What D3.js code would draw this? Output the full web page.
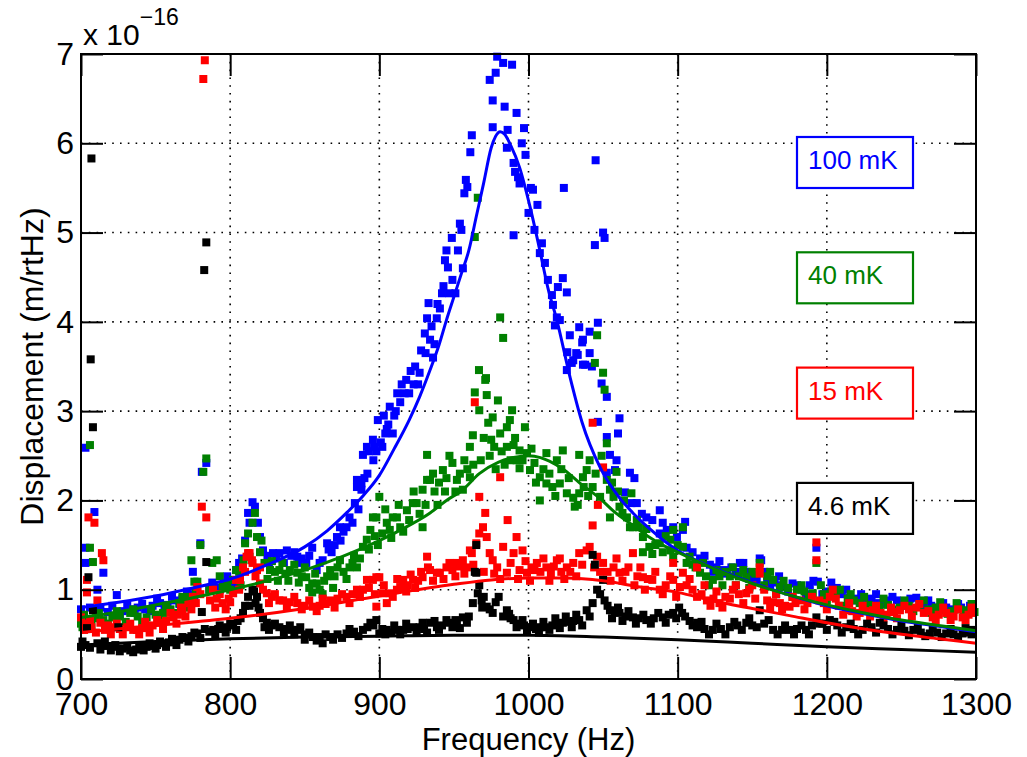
<!DOCTYPE html>
<html><head><meta charset="utf-8">
<script src="https://cdn.jsdelivr.net/npm/d3@7"></script>
<style>html,body{margin:0;padding:0;background:#fff;} svg{display:block;font-family:"Liberation Sans",Arial,Helvetica,sans-serif;}</style>
</head><body><svg id="chart" width="1027" height="757"></svg>
<script>
// ---------- DATA ----------
const xTicks = [700,800,900,1000,1100,1200,1300];
const yTicks = [0,1,2,3,4,5,6,7];
const legendLabels = ["100 mK","40 mK","15 mK","4.6 mK"];
const seriesColors = ["#0000ff","#008000","#ff0000","#000000"];

// measured points [frequency Hz, displacement x1e-16]
const pts100mK = [[700,0.78],[703,2.59],[703,1.47],[703,1.30],[706,0.80],[709,1.87],[711,1.0],[715,1.19],[718,0.75],[724,0.94],[728,0.76],[733,0.78],[738,0.8],[743,0.78],[748,0.82],[753,0.85],[758,0.83],[763,0.88],[768,0.9],[773,0.95],[775,1.2],[778,0.98],[780,1.52],[781,2.32],[784,2.42],[786,1.0],[790,1.02],[795,1.05],[800,1.11],[804,1.22],[808,1.35],[812,1.86],[813,1.75],[815,1.98],[816.6,1.93],[818.6,1.75],[820,1.59],[822,1.44],[825,1.38],[828.7,1.41],[833,1.41],[838,1.44],[841,1.38],[845,1.37],[848,1.35],[851,1.3],[855,1.47],[858,1.22],[862,1.33],[865,1.52],[868,1.42],[871.6,1.59],[873.6,1.7],[876,1.65],[878,1.7],[880,1.81],[883.6,1.97],[885,2.15],[885,2.23],[888,2.19],[888,2.12],[889,2.51],[890,2.25],[891.7,2.6],[893,2.55],[895.7,2.68],[897,2.6],[899,2.9],[901,2.65],[903,2.95],[905,2.8],[907,3.05],[910,2.95],[912,3.2],[915,3.3],[918,3.35],[920,3.2],[923,3.3],[927,3.43],[928,3.68],[930.5,3.87],[932,4.04],[933,4.21],[934,3.8],[936,3.6],[938.5,4.04],[940.6,4.15],[942,4.32],[944,4.69],[945,4.8],[946,4.61],[947,4.32],[948.6,4.94],[949,4.47],[951,4.32],[952.7,4.8],[954,5.1],[955,5.03],[956,4.6],[957,5.44],[958,5.59],[959,5.51],[961,5.9],[962,6.09],[974,6.71],[976,6.18],[976,6.48],[978,6.79],[979,6.97],[983,6.9],[984,6.41],[985.5,5.95],[986,6.15],[989,6.88],[990,5.78],[990,4.97],[991,5.68],[992,6.34],[993,5.62],[994,5.55],[995.5,6.0],[997,6.17],[998,5.87],[1000,5.22],[1001.6,5.5],[1003,5.48],[1004,5.03],[1006,5.31],[1007.6,4.77],[1009,4.88],[1011,4.66],[1013,4.47],[1015.7,4.3],[1016.4,4.19],[1017.7,3.96],[1019,4.05],[1019.7,4.39],[1021,4.02],[1023,4.49],[1023.7,5.5],[1025.7,4.33],[1025.7,3.46],[1026,3.66],[1027.7,3.85],[1029,3.54],[1030,3.57],[1032,3.65],[1033,3.63],[1034,3.94],[1036,3.77],[1036.5,3.52],[1036.5,3.8],[1038,3.52],[1041,3.89],[1041,3.65],[1042.5,3.5],[1044.5,4.86],[1045,5.81],[1046.5,3.99],[1046.5,2.88],[1049,3.31],[1050,5.0],[1051,4.94],[1052.5,3.16],[1052.5,2.71],[1052.5,2.31],[1054.6,2.51],[1058,2.34],[1059,2.45],[1060,2.75],[1061,2.92],[1064.6,2.09],[1068,2.31],[1069,1.97],[1071,2.25],[1072.6,1.97],[1076,1.85],[1079,1.81],[1083,1.78],[1088,1.89],[1088,1.63],[1090,1.75],[1092.7,1.67],[1097,1.7],[1099.5,1.59],[1103.5,1.67],[1105,1.76],[1106,1.47],[1110,1.42],[1115,1.35],[1121.6,1.28],[1126,1.25],[1131,1.22],[1136,1.25],[1141.7,1.3],[1146,1.2],[1150,1.15],[1153,1.11],[1155,1.35],[1156,1.33],[1160,1.1],[1165,1.08],[1170,1.05],[1177,1.07],[1183,1.0],[1188.6,1.05],[1193,1.47],[1194,1.09],[1200,0.98],[1206.7,1.02],[1210,0.95],[1215,0.91],[1220,0.9],[1225,0.88],[1230,0.9],[1235,0.85],[1240,0.88],[1247,0.88],[1253,0.85],[1260,0.91],[1265,0.83],[1270,0.82],[1275,0.8],[1280,0.8],[1285,0.78],[1290,0.8],[1298,0.77],
 [713,0.8],[721,0.82],[726,0.72],[731,0.82],[736,0.74],[741,0.84],[746,0.76],[751,0.9],[756,0.8],[761,0.92],[766,0.84],[771,0.98],[776,0.9],[788,1.08],[793,1.0],[798,1.15],[802,1.05],[806,1.3],[810,1.55],[826,1.3],[831,1.35],[836,1.3],[843,1.42],[846,1.3],[853,1.38],[860,1.3],[866,1.45],[870,1.5],[874,1.55],[882,1.75],[886,1.9],[892,2.3],[896,2.45],[898,2.55],[902,2.6],[904,2.75],[906,2.85],[909,2.75],[911,3.0],[914,3.1],[917,3.2],[921,3.45],[924,3.5],[926,3.3],[931,3.65],[935,3.95],[937,3.75],[939,4.2],[943,4.4],[1112,1.3],[1118,1.38],[1124,1.2],[1128,1.32],[1133,1.18],[1139,1.2],[1144,1.3],[1148,1.12],[1158,1.2],[1162,1.05],[1168,1.15],[1174,0.98],[1180,1.05],[1186,0.95],[1191,1.1],[1197,0.95],[1203,1.08],[1213,1.0],[1218,0.88],[1223,0.95],[1228,0.85],[1233,0.95],[1238,0.84],[1244,0.92],[1250,0.82],[1256,0.9],[1263,0.82],[1268,0.88],[1273,0.78],[1278,0.85],[1283,0.77],[1288,0.84],[1293,0.75],[1296,0.82]];

const pts40mK = [[700,0.62],[701,0.58],[704,0.65],[706,2.62],[706,1.47],[708,1.31],[710,0.68],[715,0.66],[721,0.69],[726,0.7],[733,0.74],[738,0.7],[744,0.69],[750,0.72],[755,0.74],[760,0.78],[766,0.85],[770,0.88],[773,0.92],[774,1.33],[776,1.09],[778,1.09],[780,1.5],[782,2.32],[784,2.47],[786,1.0],[788,1.3],[791,1.33],[795,1.03],[798,1.05],[802,1.11],[806,1.2],[809,1.33],[810,1.52],[812,1.63],[813,1.37],[815,1.75],[816.6,1.86],[818,1.59],[820,1.42],[823,1.3],[826.7,1.22],[830,1.2],[833,1.22],[837,1.18],[840,1.22],[845,1.19],[848,1.15],[851,1.14],[855,1.07],[855,0.97],[858,1.07],[860,1.0],[863,1.1],[867,1.22],[870,1.15],[873.6,1.33],[876,1.2],[880,1.25],[882,1.3],[885,1.25],[889,1.48],[891.6,1.56],[894,1.67],[895.7,1.81],[898,1.81],[900,2.04],[902,1.63],[905,1.75],[907,1.67],[909,1.81],[911.8,1.81],[914,1.7],[918.5,1.89],[922.5,1.97],[925,1.97],[929,2.12],[929,1.7],[932,2.23],[932,2.51],[934,2.23],[937,2.1],[940,2.2],[942.6,2.34],[945,2.25],[949,2.42],[952,2.23],[956,2.12],[957,2.45],[960.7,2.6],[960.7,2.26],[962.7,2.73],[964,3.21],[964,4.95],[966,5.39],[966.8,3.46],[967,3.01],[971,3.35],[971.5,3.37],[972,3.18],[973,2.87],[975,2.68],[976,2.93],[977,2.6],[979.5,3.12],[981,2.75],[981,4.05],[983,3.82],[985.5,2.82],[985.5,2.6],[987.5,2.9],[989,3.01],[990,2.62],[992,2.45],[994,2.56],[994,2.36],[997.6,2.82],[999,2.53],[1001,2.34],[1004,2.42],[1007.6,2.26],[1007.6,2.0],[1012,2.19],[1012,2.53],[1016,2.15],[1019,2.45],[1021,2.19],[1023,2.56],[1025.7,2.08],[1030,2.03],[1031,1.93],[1034,2.08],[1034,2.51],[1036.5,2.26],[1039,2.34],[1041,2.45],[1043,2.15],[1044.5,3.54],[1046,3.85],[1048,2.04],[1050,3.43],[1051,3.24],[1052.5,2.23],[1052.5,2.64],[1054.6,2.12],[1054.6,1.81],[1057,2.04],[1059,2.32],[1061,1.93],[1063,1.86],[1066,1.81],[1069,2.08],[1070,1.7],[1072.6,1.78],[1076.7,1.59],[1076.7,1.42],[1081,1.48],[1085,1.5],[1088,1.52],[1092,1.6],[1095,1.56],[1095,1.44],[1097,1.67],[1097,1.37],[1103.5,1.7],[1103.5,1.48],[1106,1.3],[1108,1.37],[1112,1.25],[1115,1.19],[1119,1.15],[1123.6,1.11],[1128,1.15],[1132,1.2],[1137,1.25],[1141,1.15],[1146,1.14],[1150,1.2],[1155,1.3],[1160,1.15],[1164,1.11],[1168.5,1.03],[1174,1.02],[1180,1.0],[1185,0.98],[1190.6,0.96],[1193,1.3],[1198,0.95],[1203,0.98],[1208.7,1.0],[1214,0.9],[1218,0.88],[1222,0.85],[1228,0.83],[1235.5,0.81],[1241,0.83],[1249,0.8],[1255,0.82],[1262,0.83],[1268,0.78],[1273,0.8],[1278,0.77],[1284,0.76],[1289,0.78],[1294,0.77],[1299,0.75],
 [702,0.72],[707,0.6],[712,0.74],[718,0.62],[724,0.76],[730,0.64],[735,0.78],[741,0.64],[747,0.78],[752,0.66],[757,0.82],[763,0.74],[768,0.92],[772,0.8],[777,0.98],[793,1.15],[800,1.0],[804,1.22],[807,1.05],[821,1.55],[825,1.12],[828,1.32],[832,1.1],[835,1.3],[839,1.1],[843,1.28],[846,1.08],[850,1.25],[853,1.02],[857,1.18],[862,0.95],[865,1.15],[869,1.02],[872,1.25],[878,1.12],[883,1.38],[887,1.35],[893,1.45],[897,1.6],[899,1.5],[904,1.9],[908,1.58],[913,1.95],[916,1.65],[920,1.78],[923,2.1],[927,1.85],[931,1.95],[936,2.3],[939,1.95],[944,2.1],[947,2.5],[951,2.1],[954,2.3],[959,2.35],[963,2.4],[968,2.45],[970,2.7],[974,2.5],[978,2.35],[982,2.55],[984,2.4],[988,2.45],[991,2.7],[996,2.45],[1002,2.58],[1005,2.2],[1010,2.35],[1014,2.3],[1018,2.05],[1022,2.35],[1027,2.25],[1033,1.95],[1037,2.15],[1040,2.05],[1045,2.3],[1049,2.5],[1056,2.2],[1060,2.1],[1064,2.0],[1068,1.7],[1074,1.7],[1079,1.68],[1083,1.4],[1090,1.42],[1100,1.5],[1110,1.28],[1117,1.3],[1121,1.05],[1126,1.22],[1130,1.05],[1135,1.15],[1139,1.05],[1144,1.22],[1148,1.02],[1152,1.18],[1158,1.05],[1162,1.2],[1166,0.95],[1171,1.1],[1177,0.92],[1183,1.05],[1188,0.9],[1196,1.05],[1200,0.88],[1206,0.95],[1211,0.82],[1216,0.95],[1225,0.92],[1232,0.78],[1238,0.9],[1245,0.78],[1252,0.88],[1258,0.76],[1265,0.88],[1270,0.74],[1276,0.86],[1281,0.73],[1287,0.85],[1292,0.74],[1297,0.84]];

const pts15mK = [[700,0.69],[703,0.62],[704,1.11],[704,0.97],[705,1.81],[706,0.66],[709,1.75],[711,0.88],[713,0.63],[714,1.41],[715,1.33],[718,0.6],[721.6,0.58],[726,0.56],[731,0.58],[735,0.55],[737.5,0.55],[741,0.57],[744,0.58],[748,0.6],[753,0.63],[757,0.65],[762,0.69],[765,0.72],[768,0.77],[772,0.85],[775,0.92],[778,1.03],[781,1.93],[782,6.72],[783,6.93],[784,1.81],[786.5,0.88],[788.5,1.0],[791,0.9],[795,0.85],[799,0.9],[802,0.96],[804,1.11],[806.6,1.11],[808.6,1.25],[811,1.37],[812,1.41],[813,1.41],[814.6,1.33],[815,1.3],[818,1.22],[820,1.07],[820,1.25],[822,1.0],[824.6,0.96],[828,0.92],[833,0.88],[835.5,0.88],[840,0.86],[845,0.85],[850,0.82],[855.5,0.81],[860,0.82],[864,0.84],[867,0.88],[872,0.9],[878,0.92],[882,0.95],[885,1.0],[889,1.0],[891.7,1.11],[895.7,1.11],[898,0.81],[898,1.14],[900,1.14],[902,0.96],[905,0.85],[907,0.96],[911.8,1.0],[914,1.03],[916,1.11],[919,1.05],[922.6,1.11],[926,1.1],[929,1.14],[932,1.37],[932.6,1.25],[934,1.22],[938.6,1.19],[940.6,1.19],[945,1.25],[949,1.22],[952,1.3],[956,1.33],[958.7,1.25],[960.7,1.44],[962,1.41],[964,3.1],[965,1.52],[967,1.63],[967,2.04],[969.5,1.7],[971,1.86],[972,1.59],[974,1.41],[976,1.33],[979,1.25],[981,2.26],[983,1.48],[985.5,1.19],[986,1.78],[990,1.41],[992,1.59],[994,1.22],[996,1.44],[999,1.19],[1002,1.25],[1005.6,1.3],[1008,1.2],[1012,1.25],[1015,1.18],[1019,1.33],[1022,1.2],[1025.7,1.25],[1030,1.3],[1034,1.41],[1039,1.44],[1041,1.48],[1043,2.87],[1043,1.72],[1046,1.37],[1046.5,1.95],[1050,1.3],[1050,2.37],[1053,1.2],[1057,1.25],[1061,1.19],[1065,1.2],[1070,1.41],[1073,1.15],[1076.7,1.14],[1080,1.12],[1083,1.11],[1088,1.0],[1092,1.05],[1097,1.11],[1097,1.3],[1101.5,1.03],[1103.5,1.19],[1106,1.05],[1110,1.0],[1113,0.92],[1113,1.25],[1116,0.95],[1119.6,0.88],[1124,0.9],[1128,0.85],[1132,0.92],[1137,1.0],[1141,0.95],[1146,0.96],[1150,1.05],[1155,1.25],[1155,1.18],[1160,0.88],[1164,0.86],[1168.5,0.85],[1172,0.82],[1175,0.81],[1179,0.85],[1182,0.88],[1187,0.85],[1193,1.53],[1193,1.33],[1195,0.88],[1198,0.85],[1202,0.92],[1204,1.0],[1208,0.82],[1213,0.77],[1217,0.76],[1222,0.74],[1226,0.76],[1231,0.77],[1236,0.74],[1240,0.72],[1245,0.75],[1249,0.77],[1255,0.78],[1260,0.8],[1265,0.74],[1271,0.69],[1275,0.72],[1280,0.74],[1285,0.7],[1291,0.69],[1295,0.72],[1298,0.74],
 [702,0.55],[707,0.58],[710,0.52],[716,0.55],[720,0.5],[724,0.62],[728,0.5],[733,0.62],[739,0.5],[743,0.64],[746,0.52],[751,0.66],[755,0.56],[760,0.74],[764,0.62],[767,0.8],[770,0.7],[774,0.78],[777,0.85],[780,0.95],[790,0.8],[793,0.95],[797,0.78],[800,0.86],[806,1.0],[810,1.2],[817,1.15],[826,0.85],[830,0.95],[838,0.8],[843,0.92],[848,0.78],[853,0.88],[858,0.76],[862,0.9],[870,0.8],[875,0.95],[880,0.85],[887,0.92],[893,1.02],[897,0.95],[903,1.05],[909,0.92],[912,1.12],[918,0.98],[921,1.17],[924,1.02],[928,1.2],[936,1.1],[943,1.12],[947,1.3],[951,1.15],[954,1.26],[957,1.18],[963,1.28],[970,1.2],[977,1.18],[981,1.12],[988,1.3],[993,1.12],[998,1.32],[1001,1.1],[1004,1.22],[1010,1.35],[1014,1.1],[1017,1.26],[1021,1.35],[1024,1.12],[1028,1.2],[1032,1.15],[1036,1.28],[1044,1.25],[1048,1.2],[1055,1.1],[1059,1.35],[1063,1.1],[1067,1.25],[1071,1.05],[1075,1.25],[1078,1.0],[1085,1.2],[1090,0.95],[1095,1.15],[1099,0.92],[1108,1.12],[1118,1.05],[1122,0.82],[1126,0.98],[1130,0.8],[1135,0.9],[1139,1.05],[1144,0.85],[1148,1.0],[1152,0.9],[1158,1.0],[1162,0.8],[1166,0.95],[1170,0.78],[1177,0.92],[1185,0.78],[1190,0.92],[1200,0.78],[1206,0.9],[1211,0.72],[1215,0.85],[1220,0.7],[1224,0.82],[1229,0.7],[1233,0.82],[1238,0.68],[1243,0.8],[1247,0.68],[1252,0.82],[1257,0.7],[1262,0.84],[1268,0.76],[1273,0.66],[1278,0.8],[1283,0.66],[1288,0.78],[1293,0.66],[1297,0.8]];

const pts4_6mK = [[700,0.36],[703,0.38],[704,0.57],[705,1.14],[706.5,3.58],[707,5.83],[708,2.82],[708,0.77],[711,0.4],[715,0.38],[718,0.37],[721.6,0.36],[725,0.58],[728,0.34],[733,0.32],[737,0.33],[741,0.35],[744,0.36],[748,0.37],[751,0.38],[755,0.4],[759,0.41],[762,0.42],[766,0.44],[770,0.46],[774,0.48],[778,0.51],[781,0.75],[782.6,4.58],[784,4.89],[784,1.31],[786,0.53],[788.6,0.55],[792,0.56],[795,0.57],[798,0.58],[802,0.6],[805,0.65],[808.6,0.74],[810,0.82],[812,0.92],[815,1.0],[816,0.98],[818,0.92],[820,0.74],[822,0.68],[824.6,0.63],[828,0.6],[833,0.58],[838,0.56],[841,0.55],[845,0.55],[850,0.44],[850,0.5],[855.5,0.47],[860,0.47],[862,0.4],[867,0.47],[872,0.5],[878,0.51],[883,0.53],[889,0.55],[894,0.63],[898,0.66],[900,0.51],[902,0.56],[905,0.55],[908,0.52],[911.8,0.55],[916,0.55],[919,0.56],[922.5,0.58],[927,0.58],[930,0.56],[934,0.63],[938.6,0.58],[942,0.6],[945,0.66],[949,0.58],[952,0.62],[956,0.69],[958.7,0.63],[962.7,0.85],[964,1.2],[965,1.5],[965,1.19],[966,0.96],[968.6,0.88],[970,0.92],[972,0.81],[974,0.78],[976,0.74],[980,0.92],[983,0.7],[985.5,0.77],[988,0.68],[990,0.66],[994,0.62],[997,0.6],[1001,0.58],[1005,0.56],[1008,0.58],[1012,0.58],[1016,0.6],[1019,0.62],[1023,0.63],[1027,0.64],[1030,0.65],[1034,0.66],[1039,0.77],[1043,0.85],[1043,1.39],[1044.5,1.28],[1046,1.0],[1050,1.11],[1051,0.88],[1054.6,0.77],[1058,0.76],[1061,0.74],[1065,0.7],[1070,0.69],[1074,0.68],[1079,0.66],[1084,0.68],[1090,0.69],[1094,0.72],[1097,0.74],[1103,0.74],[1108,0.65],[1113,0.63],[1113,0.58],[1118,0.56],[1123.6,0.55],[1129,0.56],[1135,0.58],[1140,0.6],[1146,0.63],[1150,0.6],[1155,0.77],[1158,0.62],[1164,0.55],[1170,0.55],[1175,0.55],[1180,0.56],[1186,0.55],[1190,0.6],[1193,0.69],[1197,0.62],[1202,0.66],[1207,0.6],[1213,0.58],[1218,0.56],[1224,0.55],[1230,0.58],[1235.5,0.63],[1241,0.56],[1247,0.55],[1252,0.54],[1258,0.55],[1263,0.52],[1269,0.51],[1274,0.52],[1280,0.51],[1285,0.5],[1291,0.51],[1295,0.52],[1298,0.55],
 [701,0.42],[706,0.35],[713,0.33],[716,0.42],[720,0.32],[723,0.38],[726,0.31],[731,0.36],[735,0.3],[739,0.38],[742,0.32],[746,0.4],[750,0.34],[753,0.42],[757,0.36],[761,0.45],[764,0.38],[768,0.47],[772,0.42],[776,0.52],[780,0.46],[783,0.56],[790,0.5],[793,0.6],[797,0.52],[800,0.62],[804,0.55],[807,0.68],[813,0.82],[817,0.85],[819,0.8],[823,0.58],[826,0.55],[830,0.62],[836,0.52],[840,0.6],[843,0.5],[847,0.58],[853,0.52],[858,0.43],[864,0.5],[869,0.44],[875,0.46],[880,0.56],[886,0.48],[892,0.58],[896,0.6],[904,0.5],[910,0.6],[914,0.5],[918,0.62],[925,0.52],[929,0.63],[932,0.52],[937,0.65],[940,0.55],[947,0.63],[951,0.66],[954,0.57],[960,0.7],[967,1.05],[969,0.8],[978,0.86],[987,0.73],[992,0.58],[996,0.66],[999,0.53],[1003,0.62],[1007,0.52],[1010,0.64],[1014,0.55],[1018,0.68],[1021,0.57],[1025,0.7],[1029,0.58],[1032,0.72],[1036,0.6],[1041,0.7],[1048,0.95],[1053,0.82],[1056,0.68],[1060,0.8],[1063,0.65],[1067,0.76],[1072,0.62],[1077,0.72],[1082,0.62],[1087,0.74],[1092,0.63],[1099,0.68],[1101,0.8],[1105,0.7],[1110,0.6],[1116,0.64],[1121,0.5],[1126,0.62],[1132,0.5],[1138,0.64],[1143,0.55],[1148,0.68],[1153,0.58],[1161,0.66],[1167,0.5],[1172,0.6],[1178,0.5],[1183,0.6],[1188,0.5],[1195,0.62],[1200,0.55],[1205,0.64],[1210,0.52],[1216,0.62],[1221,0.5],[1227,0.62],[1233,0.52],[1238,0.6],[1244,0.5],[1250,0.6],[1255,0.49],[1261,0.58],[1266,0.48],[1271,0.57],[1277,0.47],[1283,0.56],[1288,0.47],[1293,0.57],[1297,0.5]];

// fitted curves [frequency Hz, displacement x1e-16]
const fit100mK = [[700,0.80],[725,0.86],[750,0.93],[775,1.02],[800,1.12],[825,1.28],[850,1.48],[865,1.66],[878,1.86],[889,2.05],[900,2.28],[910,2.58],[920,2.9],[927,3.16],[934,3.46],[940,3.74],[945,4.02],[950,4.28],[955,4.54],[960,4.8],[965,5.18],[970,5.56],[975,5.95],[978,6.08],[981,6.13],[984,6.1],[988,5.98],[994,5.73],[1001,5.29],[1008,4.77],[1013,4.38],[1019,4.02],[1028,3.37],[1036,2.87],[1048,2.37],[1060,2.05],[1070,1.86],[1080,1.70],[1090,1.56],[1100,1.44],[1125,1.24],[1150,1.08],[1175,0.94],[1200,0.82],[1225,0.73],[1250,0.65],[1275,0.59],[1300,0.53]];
const fit40mK = [[700,0.69],[725,0.75],[750,0.83],[775,0.91],[800,1.0],[825,1.1],[850,1.22],[875,1.37],[900,1.55],[920,1.72],[934,1.86],[945,2.0],[956,2.12],[967,2.3],[980,2.43],[990,2.48],[1000,2.5],[1008,2.48],[1014,2.44],[1024,2.34],[1034,2.2],[1048,2.02],[1057,1.88],[1070,1.72],[1080,1.6],[1090,1.5],[1100,1.42],[1125,1.23],[1150,1.07],[1175,0.94],[1200,0.83],[1225,0.74],[1250,0.66],[1275,0.6],[1300,0.54]];
const fit15mK = [[700,0.52],[750,0.60],[800,0.68],[850,0.79],[900,0.93],[950,1.06],[975,1.11],[1000,1.13],[1025,1.13],[1050,1.10],[1075,1.03],[1100,0.97],[1125,0.87],[1150,0.79],[1175,0.71],[1200,0.63],[1225,0.56],[1250,0.50],[1275,0.45],[1300,0.40]];
const fit4_6mK = [[700,0.38],[750,0.42],[800,0.45],[850,0.47],[900,0.48],[950,0.49],[1000,0.49],[1050,0.47],[1100,0.44],[1150,0.40],[1200,0.36],[1250,0.33],[1300,0.30]];

// ---------- DRAW ----------
const svg = d3.select("#chart");
const W = 1027, H = 757;
const x = d3.scaleLinear().domain([700,1300]).range([81,976]);
const y = d3.scaleLinear().domain([0,7]).range([679,54]);

svg.append("rect").attr("width",W).attr("height",H).attr("fill","#fff");

// grid
const grid = svg.append("g").attr("stroke","#000").attr("stroke-width",1.6).attr("stroke-dasharray","1.6 6.2");
grid.selectAll("line.gx").data(xTicks.slice(1,-1)).join("line").attr("class","gx")
  .attr("x1",d=>x(d)).attr("x2",d=>x(d)).attr("y1",y(7)).attr("y2",y(0));
grid.selectAll("line.gy").data(yTicks.slice(1,-1)).join("line").attr("class","gy")
  .attr("y1",d=>y(d)).attr("y2",d=>y(d)).attr("x1",x(700)).attr("x2",x(1300));

// points
const ptsAll = [pts100mK, pts40mK, pts15mK, pts4_6mK];
const fitsAll = [fit100mK, fit40mK, fit15mK, fit4_6mK];
const S = 8;
ptsAll.forEach((pts,i) => {
  svg.append("g").attr("fill",seriesColors[i]).selectAll("rect").data(pts).join("rect")
    .attr("x",d=>x(d[0])-S/2).attr("y",d=>y(d[1])-S/2).attr("width",S).attr("height",S);
});

// fitted lines
const line = d3.line().x(d=>x(d[0])).y(d=>y(d[1])).curve(d3.curveMonotoneX);
fitsAll.forEach((f,i) => {
  svg.append("path").datum(f).attr("d",line).attr("fill","none")
    .attr("stroke",seriesColors[i]).attr("stroke-width",3).attr("stroke-linejoin","round");
});

// axes
const fs = 32;
const axB = svg.append("g").attr("transform",`translate(0,${y(0)})`)
  .call(d3.axisBottom(x).tickValues(xTicks).tickFormat(d3.format("d")).tickSizeInner(-22).tickSizeOuter(0).tickPadding(13));
const axL = svg.append("g").attr("transform",`translate(${x(700)},0)`)
  .call(d3.axisLeft(y).tickValues(yTicks).tickFormat(d3.format("d")).tickSizeInner(-22).tickSizeOuter(0).tickPadding(7));
const axT = svg.append("g").attr("transform",`translate(0,${y(7)})`)
  .call(d3.axisTop(x).tickValues(xTicks).tickFormat("").tickSizeInner(-22).tickSizeOuter(0));
const axR = svg.append("g").attr("transform",`translate(${x(1300)},0)`)
  .call(d3.axisRight(y).tickValues(yTicks).tickFormat("").tickSizeInner(-22).tickSizeOuter(0));
[axB,axL,axT,axR].forEach(a => {
  a.select(".domain").remove();
  a.selectAll(".tick line").attr("stroke","#000").attr("stroke-width",2);
  a.selectAll(".tick text").attr("fill","#000").attr("font-size",fs).attr("font-family","Liberation Sans, Arial, sans-serif");
});

// frame
svg.append("rect").attr("x",x(700)).attr("y",y(7)).attr("width",x(1300)-x(700)).attr("height",y(0)-y(7))
  .attr("fill","none").attr("stroke","#000").attr("stroke-width",2);

// axis labels
svg.append("text").attr("x",(x(700)+x(1300))/2).attr("y",750).attr("text-anchor","middle")
  .attr("font-size",31).text("Frequency (Hz)");
svg.append("text").attr("transform",`translate(43,${(y(0)+y(7))/2}) rotate(-90)`).attr("text-anchor","middle")
  .attr("font-size",fs).text("Displacement (m/rtHz)");

// exponent
const ex = svg.append("text").attr("x",83).attr("y",45).attr("font-size",30);
ex.append("tspan").text("x 10");
ex.append("tspan").attr("font-size",23).attr("dy",-20).text("\u221216");

// legend boxes
const boxTop = 137, boxGap = 115.3, boxW = 116, boxH = 51, boxX = 797;
legendLabels.forEach((lab,i) => {
  const g = svg.append("g").attr("transform",`translate(${boxX},${boxTop+i*boxGap})`);
  g.append("rect").attr("width",boxW).attr("height",boxH).attr("fill","#fff")
    .attr("stroke",seriesColors[i]).attr("stroke-width",2.2);
  g.append("text").attr("x",11).attr("y",32).attr("font-size",26).attr("fill",seriesColors[i]).text(lab);
});
</script></body></html>
